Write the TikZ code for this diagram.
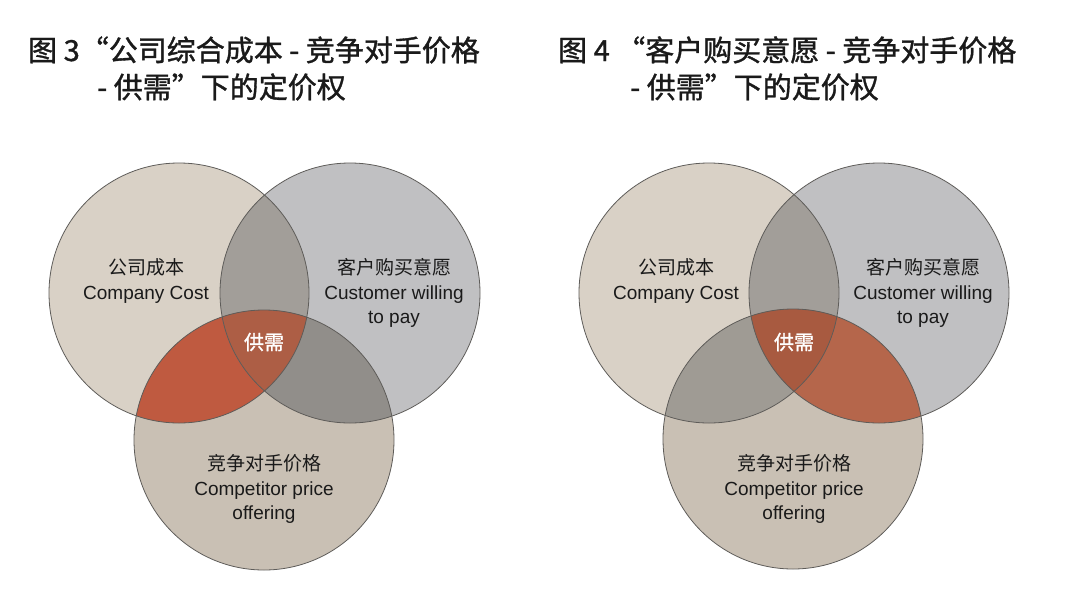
\documentclass[tikz,border=0pt]{standalone}
\usepackage{fontspec}
\setmainfont{Liberation Sans}
\newfontfamily\cjk{Noto Sans CJK SC}
\newfontfamily\cjkm[FakeBold=1.2]{Noto Sans CJK SC}
\definecolor{cA}{HTML}{D9D1C6}
\definecolor{cB}{HTML}{C0C0C2}
\definecolor{cC}{HTML}{C9C0B4}
\definecolor{cAB}{HTML}{A29E99}
\definecolor{cgrayL}{HTML}{918E8A}
\definecolor{cgrayR}{HTML}{9F9B94}
\definecolor{credL}{HTML}{BF5A40}
\definecolor{credR}{HTML}{B5664B}
\definecolor{cmidL}{HTML}{AD5E45}
\definecolor{cmidR}{HTML}{A85A40}
\definecolor{edge}{HTML}{5E5C59}
\definecolor{ink}{HTML}{1A1A1A}
\tikzset{
  ring/.style={draw=edge, line width=0.8pt},
  title/.style={font=\cjkm\fontsize{29pt}{35pt}\selectfont, text=ink, anchor=base west, inner sep=0pt},
  lab/.style={font=\fontsize{19pt}{24.5pt}\selectfont, text=ink, align=center, inner sep=0pt},
  core/.style={font=\cjkm\fontsize{20pt}{22pt}\selectfont, text=white, inner sep=0pt}
}
\newcommand{\R}{130pt}
\begin{document}
\begin{tikzpicture}[x=1pt,y=-1pt]
\path[use as bounding box, fill=white] (0,0) rectangle (1080,595);
% ---------- left diagram ----------
\coordinate (A1) at (179,293);
\coordinate (B1) at (350,293);
\coordinate (C1) at (264,440);
\fill[cA] (A1) circle[radius=\R];
\fill[cB] (B1) circle[radius=\R];
\fill[cC] (C1) circle[radius=\R];
\begin{scope}\clip (A1) circle[radius=\R]; \fill[cAB] (B1) circle[radius=\R]; \end{scope}
\begin{scope}\clip (A1) circle[radius=\R]; \fill[credL] (C1) circle[radius=\R]; \end{scope}
\begin{scope}\clip (B1) circle[radius=\R]; \fill[cgrayL] (C1) circle[radius=\R]; \end{scope}
\begin{scope}\clip (A1) circle[radius=\R]; \clip (B1) circle[radius=\R]; \fill[cmidL] (C1) circle[radius=\R]; \end{scope}
\draw[ring] (A1) circle[radius=\R];
\draw[ring] (B1) circle[radius=\R];
\draw[ring] (C1) circle[radius=\R];
\node[lab] (la1) at (146,281) {{\cjk 公司成本}\\Company Cost};
\node[lab] (lb1) at (394,293) {{\cjk 客户购买意愿}\\Customer willing\\to pay};
\node[lab] (lc1) at (264,489) {{\cjk 竞争对手价格}\\Competitor price\\offering};
\node[core] (k1) at (264,342) {供需};
\node[title] (t1a) at (28,61) {图 3“公司综合成本 - 竞争对手价格};
\node[title] (t1b) at (97,98) {- 供需”下的定价权};
% ---------- right diagram ----------
\coordinate (A2) at (709,293);
\coordinate (B2) at (879,293);
\coordinate (C2) at (793,439);
\fill[cA] (A2) circle[radius=\R];
\fill[cB] (B2) circle[radius=\R];
\fill[cC] (C2) circle[radius=\R];
\begin{scope}\clip (A2) circle[radius=\R]; \fill[cAB] (B2) circle[radius=\R]; \end{scope}
\begin{scope}\clip (A2) circle[radius=\R]; \fill[cgrayR] (C2) circle[radius=\R]; \end{scope}
\begin{scope}\clip (B2) circle[radius=\R]; \fill[credR] (C2) circle[radius=\R]; \end{scope}
\begin{scope}\clip (A2) circle[radius=\R]; \clip (B2) circle[radius=\R]; \fill[cmidR] (C2) circle[radius=\R]; \end{scope}
\draw[ring] (A2) circle[radius=\R];
\draw[ring] (B2) circle[radius=\R];
\draw[ring] (C2) circle[radius=\R];
\node[lab] (la2) at (676,281) {{\cjk 公司成本}\\Company Cost};
\node[lab] (lb2) at (923,293) {{\cjk 客户购买意愿}\\Customer willing\\to pay};
\node[lab] (lc2) at (794,489) {{\cjk 竞争对手价格}\\Competitor price\\offering};
\node[core] (k2) at (794,342) {供需};
\node[title] (t2a) at (558,61) {图 4 “客户购买意愿 - 竞争对手价格};
\node[title] (t2b) at (630,98) {- 供需”下的定价权};
\end{tikzpicture}
\end{document}
